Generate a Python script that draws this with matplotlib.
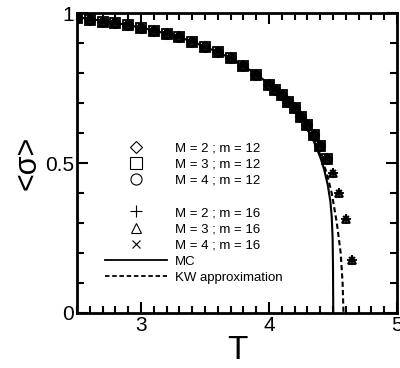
import numpy as np
import matplotlib.pyplot as plt
from matplotlib.lines import Line2D
from matplotlib.ticker import MultipleLocator

plt.rcParams['font.family'] = ['Liberation Sans', 'DejaVu Sans']

# order parameter data
T12 = [2.5, 2.6, 2.7, 2.8, 2.9, 3.0, 3.1, 3.2, 3.3, 3.4, 3.5, 3.6, 3.7, 3.8, 3.9,
       4.0, 4.05, 4.1, 4.15, 4.2, 4.25, 4.3, 4.35, 4.4, 4.45]
s12 = [0.983, 0.977, 0.971, 0.966, 0.960, 0.950, 0.940, 0.930, 0.920, 0.902, 0.887,
       0.870, 0.850, 0.823, 0.793, 0.760, 0.745, 0.727, 0.703, 0.683, 0.653,
       0.627, 0.593, 0.557, 0.513]
T16 = T12 + [4.5, 4.55, 4.6, 4.65]
s16 = s12 + [0.467, 0.400, 0.313, 0.177]

# MC curve and KW approximation
T_mc = [2.5, 2.7, 2.9, 3.1, 3.3, 3.5, 3.7, 3.9, 4.0, 4.1, 4.2, 4.3, 4.35, 4.4,
        4.43, 4.46, 4.48, 4.49, 4.497, 4.5, 4.502]
s_mc = [0.987, 0.974, 0.960, 0.942, 0.920, 0.888, 0.850, 0.797, 0.763, 0.723,
        0.676, 0.612, 0.572, 0.520, 0.480, 0.425, 0.370, 0.320, 0.250, 0.150, 0.0]
T_kw = [4.3, 4.35, 4.4, 4.45, 4.49, 4.53, 4.56, 4.575, 4.582]
s_kw = [0.614, 0.576, 0.528, 0.468, 0.400, 0.300, 0.200, 0.100, 0.0]

fig = plt.figure(figsize=(4, 3.68), dpi=100)
ax = fig.add_axes([0.1925, 0.1495, 0.80, 0.815])

mk = dict(color='black', markerfacecolor='none', markeredgewidth=1.3, linestyle='none')
ax.plot(T12, s12, marker='s', markersize=7.5, **mk)
ax.plot(T12, s12, marker='D', markersize=5.5, **mk)
ax.plot(T12, s12, marker='o', markersize=6.5, **mk)
ax.plot(T16, s16, marker='+', markersize=7.5, **mk)
ax.plot(T16, s16, marker='^', markersize=6, **mk)
ax.plot(T16, s16, marker='x', markersize=5, **mk)
ax.plot(T_mc, s_mc, '-', color='black', lw=1.5)
ax.plot(T_kw, s_kw, '--', color='black', lw=1.5, dashes=(2.5, 1.5))

# legend
lk = dict(color='black', markerfacecolor='none', markeredgewidth=0.8, linestyle='none', markersize=7)
handles = [Line2D([], [], marker='D', **{**lk, 'markersize': 6}),
           Line2D([], [], marker='s', **{**lk, 'markersize': 8}),
           Line2D([], [], marker='o', **{**lk, 'markersize': 8}),
           Line2D([], [], linestyle='none'),
           Line2D([], [], marker='+', **{**lk, 'markersize': 9}),
           Line2D([], [], marker='^', **lk),
           Line2D([], [], marker='x', **{**lk, 'markersize': 6}),
           Line2D([], [], color='black', lw=1.3),
           Line2D([], [], color='black', lw=1.3, linestyle=(0, (2.5, 1.5)))]
labels = ['M = 2 ; m = 12', 'M = 3 ; m = 12', 'M = 4 ; m = 12', '',
          'M = 2 ; m = 16', 'M = 3 ; m = 16', 'M = 4 ; m = 16',
          'MC', 'KW approximation']
leg = ax.legend(handles, labels, loc='upper left', bbox_to_anchor=(0.0875, 0.57),
                frameon=False, fontsize=9.5, handlelength=4.7, handletextpad=0.6,
                labelspacing=0.3, numpoints=1, borderaxespad=0, borderpad=0)

ax.set_xlim(2.5, 5)
ax.set_ylim(0, 1)
ax.set_xticks([3, 4, 5])
ax.set_yticks([0, 0.5, 1])
ax.set_yticklabels(['0', '0.5', '1'])
ax.xaxis.set_minor_locator(MultipleLocator(0.1))
ax.yaxis.set_minor_locator(MultipleLocator(0.1))
ax.tick_params(which='both', direction='in', top=True, right=True, width=1.5, labelsize=15, pad=2)
ax.tick_params(which='major', length=8)
ax.tick_params(which='minor', length=5)
for sp in ax.spines.values():
    sp.set_linewidth(2)
ax.set_xlabel('T', fontsize=24, labelpad=0)
ax.set_ylabel('<σ>', fontsize=22, labelpad=2)

fig.savefig('out.png', dpi=100)
